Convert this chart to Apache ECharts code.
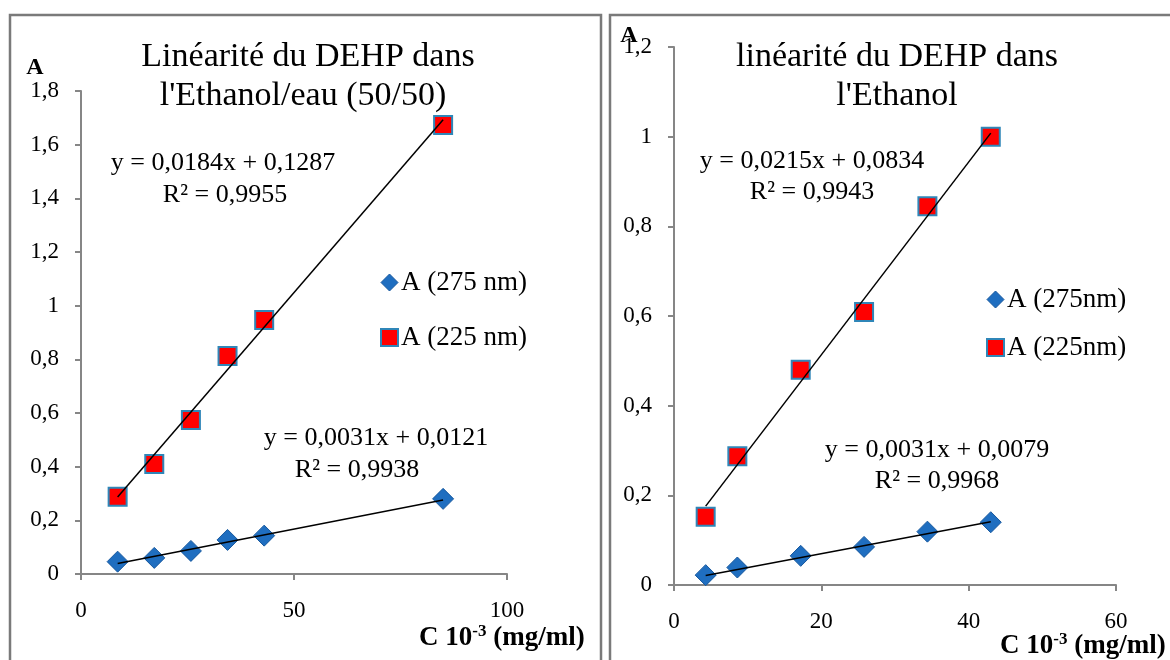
<!DOCTYPE html>
<html>
<head>
<meta charset="utf-8">
<script src="https://cdn.jsdelivr.net/npm/echarts@6/dist/echarts.min.js"></script>
<style>
  html, body { margin: 0; padding: 0; background: #ffffff; }
  #chart { width: 1170px; height: 660px; }
</style>
</head>
<body>
<div id="chart"></div>
<script>
// Absorbance of DEHP vs concentration, two solvents
const leftConc = [8.6, 17.2, 25.8, 34.4, 43, 85];
const leftA275 = [0.046, 0.060, 0.086, 0.127, 0.143, 0.280];
const leftA225 = [0.288, 0.410, 0.574, 0.812, 0.947, 1.673];

const rightConc = [4.3, 8.6, 17.2, 25.8, 34.4, 43];
const rightA275 = [0.022, 0.039, 0.065, 0.085, 0.119, 0.140];
const rightA225 = [0.152, 0.287, 0.480, 0.609, 0.845, 1.000];

// Linear fits [slope, intercept, R²]
const leftFit275 = [0.0031, 0.0121, 0.9938];
const leftFit225 = [0.0184, 0.1287, 0.9955];
const rightFit275 = [0.0031, 0.0079, 0.9968];
const rightFit225 = [0.0215, 0.0834, 0.9943];

const leftTitle = ['Linéarité du DEHP dans', "l'Ethanol/eau (50/50)"];
const rightTitle = ['linéarité du DEHP dans', "l'Ethanol"];
const leftNames = ['A (275 nm)', 'A (225 nm)'];
const rightNames = ['A (275nm)', 'A (225nm)'];

const FONT = '"Liberation Serif", "DejaVu Serif", serif';
const AXIS_GREY = '#868686';
const BLUE = '#1f6ec0';
const BLUE_EDGE = '#17589e';
const RED = '#ff0000';
const RED_EDGE = '#2f86b8';

const comma = v => String(Number(v.toFixed(2))).replace('.', ',');
const comma4 = v => v.toFixed(4).replace('.', ',');
const eqText = f => 'y = ' + comma4(f[0]) + 'x + ' + comma4(f[1]);
const r2Text = f => 'R² = ' + comma4(f[2]);

function pairs(xs, ys) { return xs.map((x, i) => [x, ys[i]]); }
function fitLine(xs, f) {
  const x0 = xs[0], x1 = xs[xs.length - 1];
  return [[x0, f[0] * x0 + f[1]], [x1, f[0] * x1 + f[1]]];
}

function xAxis(gridIndex, max, interval) {
  return {
    type: 'value', gridIndex, min: 0, max, interval,
    axisLine: { show: true, onZero: false, lineStyle: { color: AXIS_GREY, width: 2 } },
    axisTick: { show: true, length: 6, inside: false, lineStyle: { color: AXIS_GREY, width: 2 } },
    axisLabel: { color: '#000', fontFamily: FONT, fontSize: 23, margin: 25, formatter: comma },
    splitLine: { show: false }
  };
}
function yAxis(gridIndex, max) {
  return {
    type: 'value', gridIndex, min: 0, max, interval: 0.2,
    axisLine: { show: true, onZero: false, lineStyle: { color: AXIS_GREY, width: 2 } },
    axisTick: { show: true, length: 6, lineStyle: { color: AXIS_GREY, width: 2 } },
    axisLabel: { color: '#000', fontFamily: FONT, fontSize: 23, margin: 22, formatter: comma },
    splitLine: { show: false }
  };
}

const diamondStyle = { color: BLUE, borderColor: BLUE_EDGE, borderWidth: 1, opacity: 1 };
const squareStyle = { color: RED, borderColor: RED_EDGE, borderWidth: 2, opacity: 1 };

function scatter(name, idx, data, symbol, size, style) {
  return {
    name, type: 'scatter', xAxisIndex: idx, yAxisIndex: idx,
    data, symbol, symbolSize: size, itemStyle: style, z: 3,
    emphasis: { disabled: true }
  };
}
function trend(idx, data) {
  return {
    type: 'line', xAxisIndex: idx, yAxisIndex: idx, data,
    showSymbol: false, symbol: 'none', silent: true, z: 4,
    lineStyle: { color: '#000', width: 1.5 }
  };
}

function text(x, y, str, size, opts) {
  return {
    type: 'text', x, y, silent: true,
    style: Object.assign({
      text: str, fill: '#000', font: size + 'px ' + FONT,
      align: 'center', verticalAlign: 'middle'
    }, opts || {})
  };
}
function axisName(x, y) {
  return {
    type: 'text', x, y, silent: true,
    style: {
      text: '{b|C 10}{s|-3}{b| (mg/ml)}',
      align: 'left', verticalAlign: 'middle',
      rich: {
        b: { fontFamily: FONT, fontSize: 27, fontWeight: 'bold', fill: '#000' },
        s: { fontFamily: FONT, fontSize: 17, fontWeight: 'bold', fill: '#000', verticalAlign: 'top', padding: [0, 0, 12, 0] }
      }
    }
  };
}

function legend(left, top, gap, names) {
  return {
    left, top, orient: 'vertical', itemGap: gap, padding: 0,
    itemWidth: 17, itemHeight: 17,
    textStyle: { fontFamily: FONT, fontSize: 27, color: '#000', padding: [0, 0, 0, -2] },
    selectedMode: false,
    data: [
      { name: names[0], icon: 'diamond', itemStyle: diamondStyle },
      { name: names[1], icon: 'rect', itemStyle: squareStyle }
    ]
  };
}

const option = {
  backgroundColor: '#ffffff',
  animation: false,
  grid: [
    { left: 81, top: 91, width: 426, height: 483 },
    { left: 674, top: 47, width: 442, height: 538 }
  ],
  xAxis: [xAxis(0, 100, 50), xAxis(1, 60, 20)],
  yAxis: [yAxis(0, 1.8), yAxis(1, 1.2)],
  legend: [
    legend(380, 269, 28, leftNames),
    legend(986, 286, 21, rightNames)
  ],
  series: [
    scatter(leftNames[0], 0, pairs(leftConc, leftA275), 'diamond', 21, diamondStyle),
    scatter(leftNames[1], 0, pairs(leftConc, leftA225), 'rect', 18, squareStyle),
    trend(0, fitLine(leftConc, leftFit275)),
    trend(0, fitLine(leftConc, leftFit225)),
    scatter(rightNames[0], 1, pairs(rightConc, rightA275), 'diamond', 21, diamondStyle),
    scatter(rightNames[1], 1, pairs(rightConc, rightA225), 'rect', 18, squareStyle),
    trend(1, fitLine(rightConc, rightFit275)),
    trend(1, fitLine(rightConc, rightFit225))
  ],
  graphic: [
    // panel frames
    { type: 'rect', shape: { x: 10, y: 15, width: 591, height: 700 }, style: { fill: 'none', stroke: '#7a7a7a', lineWidth: 2.5 }, silent: true, z: -1 },
    { type: 'rect', shape: { x: 610, y: 15, width: 600, height: 700 }, style: { fill: 'none', stroke: '#7a7a7a', lineWidth: 2.5 }, silent: true, z: -1 },

    // titles
    text(308, 57, leftTitle[0], 34),
    text(303, 96, leftTitle[1], 34),
    text(897, 57, rightTitle[0], 34),
    text(897, 96, rightTitle[1], 34),

    // regression labels
    text(223, 163, eqText(leftFit225), 26),
    text(225, 195, r2Text(leftFit225), 26),
    text(376, 438, eqText(leftFit275), 26),
    text(357, 470, r2Text(leftFit275), 26),
    text(812, 161, eqText(rightFit225), 26),
    text(812, 192, r2Text(rightFit225), 26),
    text(937, 450, eqText(rightFit275), 26),
    text(937, 481, r2Text(rightFit275), 26),

    // axis names
    text(35, 68, 'A', 24, { font: 'bold 24px ' + FONT }),
    text(629, 36, 'A', 24, { font: 'bold 24px ' + FONT }),
    axisName(419, 638),
    axisName(1000, 646)
  ]
};

const chart = echarts.init(document.getElementById('chart'));
chart.setOption(option);
</script>
</body>
</html>
